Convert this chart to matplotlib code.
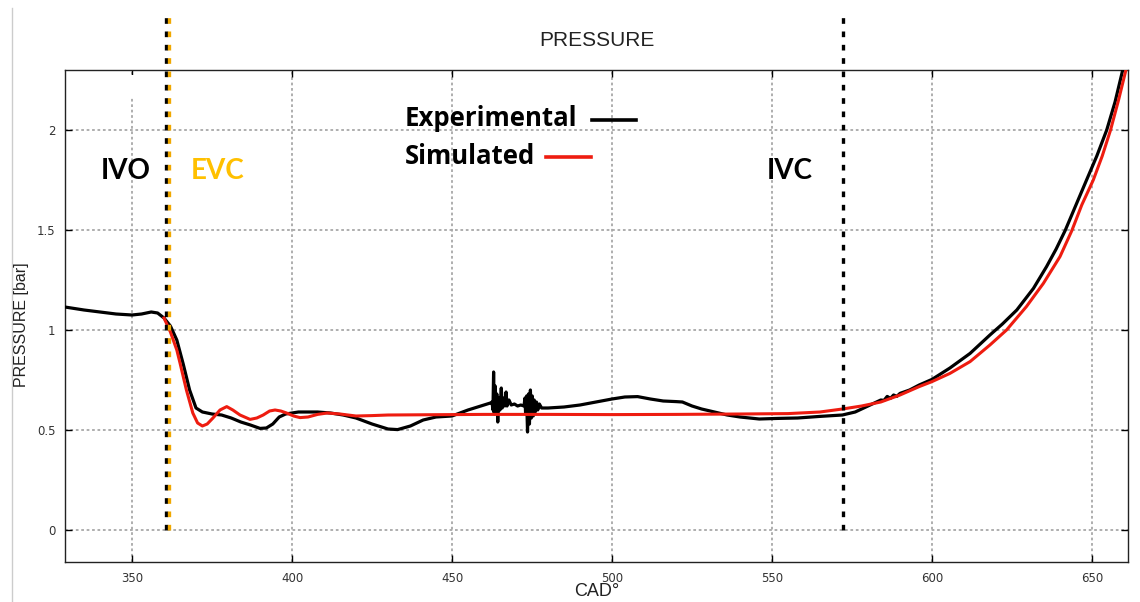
import matplotlib.pyplot as plt
from matplotlib.patches import Rectangle
from matplotlib.lines import Line2D

# experimental pressure trace (CAD, bar)
exp_cad = [329, 335, 340, 345, 350, 353, 356, 358, 360, 362, 364, 366, 368, 370, 372, 375, 378,
           381, 384, 387, 390, 392, 394, 396, 398, 402, 408, 412, 416, 420, 425, 430, 433, 437,
           441, 445, 450, 455, 459, 462, 462.5, 462.8, 463.0, 463.2, 463.5, 463.8, 464.0, 464.3,
           464.6, 465.0, 465.4, 465.7, 466.0, 466.5, 466.9, 467.2, 467.8, 468.5, 469.5, 470.5,
           471.5, 472.5, 472.8, 473.0, 473.3, 473.6, 473.9, 474.2, 474.5, 474.8, 475.1, 475.4,
           475.7, 476.0, 476.4, 476.8, 477.3, 478, 480, 485, 490, 495, 500, 504, 508, 512, 516,
           520, 522, 525, 528, 532, 536, 540, 546, 552, 558, 565, 572, 576, 580, 584, 585, 586,
           587, 588, 589, 590, 593, 596, 600, 605.6, 611.9, 618.1, 622, 626.5, 631.7, 635.8,
           638.8, 641.6, 645.2, 648.3, 651.5, 654.6, 657.2, 659.6, 661.5]
exp_p = [1.115, 1.10, 1.09, 1.08, 1.075, 1.08, 1.09, 1.085, 1.06, 1.02, 0.95, 0.83, 0.70, 0.61,
         0.59, 0.58, 0.575, 0.56, 0.54, 0.525, 0.508, 0.51, 0.53, 0.565, 0.58, 0.59, 0.59, 0.585,
         0.575, 0.56, 0.53, 0.505, 0.502, 0.52, 0.55, 0.565, 0.57, 0.60, 0.62, 0.635, 0.64, 0.60,
         0.79, 0.58, 0.72, 0.60, 0.68, 0.54, 0.66, 0.60, 0.71, 0.61, 0.66, 0.62, 0.69, 0.62, 0.65,
         0.625, 0.63, 0.62, 0.625, 0.62, 0.66, 0.58, 0.67, 0.49, 0.68, 0.53, 0.70, 0.56, 0.67,
         0.57, 0.65, 0.59, 0.64, 0.60, 0.63, 0.61, 0.61, 0.615, 0.625, 0.64, 0.655, 0.665, 0.667,
         0.655, 0.645, 0.642, 0.64, 0.62, 0.605, 0.59, 0.575, 0.565, 0.555, 0.558, 0.56, 0.568,
         0.575, 0.59, 0.62, 0.65, 0.648, 0.668, 0.658, 0.675, 0.668, 0.683, 0.70, 0.725, 0.753,
         0.81, 0.883, 0.975, 1.03, 1.10, 1.208, 1.317, 1.405, 1.497, 1.633, 1.75, 1.87, 2.0,
         2.14, 2.30, 2.42]

# simulated pressure trace
sim_cad = [360, 362, 364, 365, 367, 369, 370.5, 372, 373.5, 375.3, 377.5, 379.6, 381.5, 383.75,
           386.9, 389, 391, 393, 394.7, 396.5, 398.3, 400.5, 402.5, 405, 408, 411, 415, 420, 425,
           430, 440, 460, 480, 500, 520, 540, 555, 565, 572, 578, 584, 590, 596, 600, 605.6, 611.9,
           618.1, 623.3, 629.5, 634.8, 640, 643.7, 646.8, 650.4, 653.2, 655.8, 658.3, 660.6, 661.5]
sim_p = [1.06, 0.99, 0.90, 0.835, 0.70, 0.585, 0.535, 0.52, 0.53, 0.56, 0.60, 0.617, 0.60, 0.575,
         0.553, 0.56, 0.575, 0.595, 0.60, 0.595, 0.585, 0.57, 0.562, 0.565, 0.578, 0.585, 0.58,
         0.57, 0.572, 0.575, 0.576, 0.578, 0.578, 0.577, 0.578, 0.58, 0.582, 0.59, 0.605, 0.62,
         0.64, 0.675, 0.717, 0.742, 0.783, 0.842, 0.925, 1.0, 1.117, 1.233, 1.367, 1.497, 1.625,
         1.75, 1.87, 2.0, 2.15, 2.30, 2.36]

events = ['IVO', 'EVC', 'IVC']
event_cad = [360.5, 361.6, 572.3]
event_colors = ['black', '#f0a800', 'black']

fig = plt.figure(figsize=(11.4, 6.02), dpi=100)
fig.patch.set_facecolor('white')
ax = fig.add_axes([65/1140, 1-562/602, (1128-65)/1140, (562-70)/602])

ax.set_xlim(329.06, 661.25)
ax.set_ylim(-0.16, 2.3)
ax.set_xticks([350, 400, 450, 500, 550, 600, 650])
ax.set_yticks([0, 0.5, 1, 1.5, 2])
ax.set_yticklabels(['0', '0.5', '1', '1.5', '2'])
ax.tick_params(direction='in', top=True, right=True, length=5, width=1,
               labelsize=8.5, labelcolor='#333333', pad=7)
ax.grid(True, color='#a8a8a8', linestyle=(0, (1.5, 1.5)), linewidth=1.3)
for s in ax.spines.values():
    s.set_color('#222222')
    s.set_linewidth(1.0)

# the 350 grid line is cut short near the top in the original
ax.add_patch(Rectangle((348.5, 2.16), 3, 0.115, facecolor='white', edgecolor='none', zorder=1.8))

ax.plot(exp_cad, exp_p, color='black', lw=2.3, zorder=4)
ax.plot(sim_cad, sim_p, color='#ee1c10', lw=2.2, zorder=5)

for c, col in zip(event_cad, event_colors):
    ax.plot([c, c], [0, 2.59], color=col, lw=2.4, ls=(0, (1.7, 2.3)), clip_on=False, zorder=6)

font = 'Lato'
ax.text(126/1140, 1-171/602, 'IVO', transform=fig.transFigure, ha='center', va='center',
        fontsize=20, fontweight='bold', family=font, color='black')
ax.text(218/1140, 1-171/602, 'EVC', transform=fig.transFigure, ha='center', va='center',
        fontsize=20, fontweight='bold', family=font, color='#ffc000')
ax.text(790/1140, 1-171/602, 'IVC', transform=fig.transFigure, ha='center', va='center',
        fontsize=20, fontweight='bold', family=font, color='black')
ax.text(405/1140, 1-119/602, 'Experimental', transform=fig.transFigure, ha='left', va='center',
        fontsize=18.5, fontweight='bold', family='Open Sans', color='black')
ax.text(405/1140, 1-157/602, 'Simulated', transform=fig.transFigure, ha='left', va='center',
        fontsize=18.5, fontweight='bold', family='Open Sans', color='black')
fig.add_artist(Line2D([592/1140, 636/1140], [1-120/602]*2, color='black', lw=2.6))
fig.add_artist(Line2D([546/1140, 591/1140], [1-157/602]*2, color='#ee1c10', lw=2.6))

fig.text(597/1140, 1-40/602, 'PRESSURE', ha='center', va='center', fontsize=15,
         family='Liberation Sans', color='#222222')
fig.text(597/1140, 1-592/602, 'CAD°', ha='center', va='center', fontsize=13,
         family='Liberation Sans', color='#222222')
fig.text(22/1140, 1-325/602, 'PRESSURE [bar]', ha='center', va='center', rotation=90,
         fontsize=11.5, family='Liberation Sans', color='#222222')

# faint frame line at the left of the original picture
fig.add_artist(Line2D([12/1140, 12/1140], [0, 1-8/602], color='#cccccc', lw=1))

fig.savefig('out.png', dpi=100)
